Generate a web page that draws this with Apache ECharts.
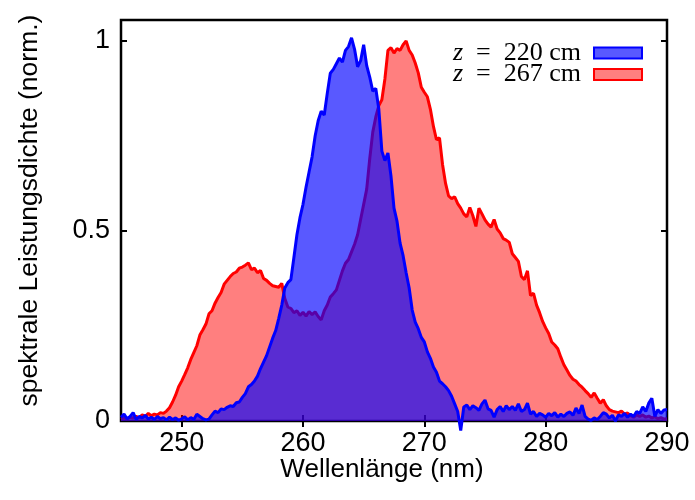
<!DOCTYPE html>
<html>
<head>
<meta charset="utf-8">
<script src="https://cdn.jsdelivr.net/npm/echarts@6/dist/echarts.min.js"></script>
<style>
  html, body { margin: 0; padding: 0; background: #fff; }
  #chart { width: 695px; height: 500px; }
</style>
</head>
<body>
<div id="chart"></div>
<script>
// Spectra sampled on a regular wavelength grid (nm)
const wavelengthStart = 245;
const wavelengthStep = 0.25;

const xTicks = [250, 260, 270, 280, 290];
const yTicks = [0, 0.5, 1];

const seriesNames = ['z = 220 cm', 'z = 267 cm'];

// normalised spectral power density at z = 220 cm
const psd220 = [
  0.010, 0.018, 0.006, 0.012, 0.022, 0.004, 0.012, 0.008,
  0.015, 0.005, 0.010, 0.004, 0.012, 0.006, 0.009, 0.003,
  0.010, 0.004, 0.008, 0.002, 0.006, 0.011, 0.003, 0.009,
  0.004, 0.018, 0.012, 0.006, 0.003, 0.005, 0.016, 0.026,
  0.022, 0.032, 0.030, 0.036, 0.040, 0.038, 0.048, 0.050,
  0.062, 0.072, 0.090, 0.096, 0.105, 0.118, 0.138, 0.155,
  0.172, 0.195, 0.218, 0.238, 0.270, 0.305, 0.350, 0.364,
  0.372, 0.430, 0.490, 0.535, 0.570, 0.615, 0.655, 0.695,
  0.750, 0.790, 0.815, 0.805, 0.862, 0.915, 0.925, 0.940,
  0.955, 0.944, 0.975, 0.985, 1.008, 0.978, 0.932, 0.948,
  0.990, 0.935, 0.905, 0.868, 0.875, 0.820, 0.710, 0.685,
  0.705, 0.645, 0.560, 0.525, 0.468, 0.435, 0.390, 0.350,
  0.292, 0.260, 0.243, 0.220, 0.208, 0.182, 0.165, 0.142,
  0.128, 0.105, 0.098, 0.090, 0.080, 0.065, 0.045, 0.025,
  -0.025, 0.037, 0.042, 0.030, 0.040, 0.035, 0.028, 0.045,
  0.055, 0.032, 0.028, 0.010, 0.030, 0.038, 0.025, 0.040,
  0.030, 0.038, 0.028, 0.045, 0.025, 0.030, 0.047, 0.018,
  0.025, 0.012, 0.020, 0.016, 0.010, 0.020, 0.014, 0.022,
  0.010, 0.018, 0.012, 0.020, 0.024, 0.015, 0.034, 0.020,
  0.042, 0.012, 0.005, 0.002, 0.008, 0.004, 0.012, 0.022,
  0.018, 0.008, 0.015, 0.000, 0.016, 0.012, 0.020, 0.010,
  0.018, 0.012, 0.025, 0.020, 0.037, 0.025, 0.047, 0.060,
  0.012, 0.030, 0.020, 0.029, 0.030
];

// normalised spectral power density at z = 267 cm
const psd267 = [
  0.005, 0.008, 0.006, 0.010, 0.008, 0.012, 0.009, 0.016,
  0.012, 0.020, 0.014, 0.018, 0.016, 0.022, 0.020, 0.026,
  0.035, 0.050, 0.068, 0.090, 0.105, 0.122, 0.140, 0.162,
  0.180, 0.198, 0.226, 0.240, 0.255, 0.282, 0.290, 0.310,
  0.325, 0.338, 0.360, 0.370, 0.380, 0.388, 0.392, 0.402,
  0.405, 0.410, 0.416, 0.398, 0.402, 0.390, 0.396, 0.375,
  0.370, 0.362, 0.356, 0.354, 0.352, 0.362, 0.322, 0.300,
  0.296, 0.285, 0.290, 0.278, 0.286, 0.276, 0.288, 0.280,
  0.287, 0.275, 0.266, 0.290, 0.305, 0.326, 0.335, 0.345,
  0.370, 0.395, 0.415, 0.425, 0.445, 0.465, 0.490, 0.530,
  0.570, 0.610, 0.690, 0.760, 0.800, 0.830, 0.845, 0.900,
  0.975, 0.982, 0.968, 0.980, 0.975, 0.990, 1.000, 0.975,
  0.963, 0.942, 0.916, 0.878, 0.865, 0.853, 0.820, 0.775,
  0.740, 0.745, 0.675, 0.625, 0.592, 0.585, 0.590, 0.572,
  0.560, 0.545, 0.537, 0.562, 0.540, 0.512, 0.560, 0.545,
  0.529, 0.518, 0.510, 0.530, 0.505, 0.495, 0.480, 0.476,
  0.470, 0.440, 0.430, 0.420, 0.380, 0.372, 0.395, 0.330,
  0.336, 0.305, 0.285, 0.262, 0.245, 0.230, 0.208, 0.200,
  0.190, 0.168, 0.148, 0.134, 0.120, 0.110, 0.105, 0.096,
  0.089, 0.080, 0.072, 0.062, 0.074, 0.060, 0.047, 0.056,
  0.040, 0.030, 0.026, 0.024, 0.022, 0.026, 0.018, 0.021,
  0.014, 0.010, 0.016, 0.012, 0.016, 0.010, 0.013, 0.008,
  0.011, 0.006, 0.009, 0.005, 0.006
];

function toPairs(values) {
  return values.map((v, i) => [wavelengthStart + i * wavelengthStep, v]);
}

const SANS = '"Liberation Sans", Arial, Helvetica, sans-serif';
const SERIF = '"Liberation Serif", "DejaVu Serif", serif';

const frameTick = { show: true, inside: true, length: 6, lineStyle: { color: '#000', width: 2 } };

const chart = echarts.init(document.getElementById('chart'), null, { renderer: 'canvas' });

chart.setOption({
  animation: false,
  backgroundColor: '#fff',
  grid: {
    left: 121, right: 28, top: 20, bottom: 79,
    show: true, borderColor: '#000', borderWidth: 2.5, backgroundColor: 'transparent'
  },
  legend: {
    orient: 'vertical',
    right: 47, top: 35,
    align: 'right',
    itemWidth: 48, itemHeight: 11,
    itemGap: -4.5,
    icon: 'rect',
    data: [
      { name: seriesNames[0], itemStyle: { color: 'rgba(0,0,255,0.65)', borderColor: '#0000ff', borderWidth: 2 } },
      { name: seriesNames[1], itemStyle: { color: 'rgba(255,0,0,0.5)', borderColor: '#ff0000', borderWidth: 2 } }
    ],
    // italic variable, upright value and unit
    formatter: n => '{i|z}{t|\u2002=\u2002' + n.slice(4) + '}',
    textStyle: {
      padding: [0, 8, 0, 0],
      lineHeight: 20,
      height: 20,
      rich: {
        i: { fontFamily: SERIF, fontStyle: 'italic', fontSize: 26, lineHeight: 20, height: 20, color: '#000' },
        t: { fontFamily: SERIF, fontSize: 26, lineHeight: 20, height: 20, color: '#000' }
      }
    }
  },
  xAxis: [
    {
      type: 'value', min: 245, max: 290,
      name: 'Wellenlänge (nm)', nameLocation: 'middle', nameGap: 36, nameMoveOverlap: false,
      nameTextStyle: { fontFamily: SANS, fontSize: 26, color: '#000', padding: [0, 24, 0, 0] },
      axisLine: { show: false },
      axisTick: Object.assign({ customValues: xTicks }, frameTick),
      axisLabel: { customValues: xTicks, fontFamily: SANS, fontSize: 27, color: '#000', margin: 9 },
      splitLine: { show: false }
    },
    {
      type: 'value', min: 245, max: 290, position: 'top',
      axisLine: { show: false },
      axisTick: Object.assign({ customValues: xTicks }, frameTick),
      axisLabel: { show: false },
      splitLine: { show: false }
    }
  ],
  yAxis: [
    {
      type: 'value', min: 0, max: 1.055,
      name: 'spektrale Leistungsdichte (norm.)', nameLocation: 'middle', nameGap: 78, nameMoveOverlap: false,
      nameTextStyle: { fontFamily: SANS, fontSize: 26.5, color: '#000', padding: [0, 0, 0, 20] },
      axisLine: { show: false },
      axisTick: Object.assign({ customValues: yTicks }, frameTick),
      axisLabel: { customValues: yTicks, fontFamily: SANS, fontSize: 27, color: '#000', margin: 11,
                   formatter: v => String(v) },
      splitLine: { show: false }
    },
    {
      type: 'value', min: 0, max: 1.055, position: 'right',
      axisLine: { show: false },
      axisTick: Object.assign({ customValues: yTicks }, frameTick),
      axisLabel: { show: false },
      splitLine: { show: false }
    }
  ],
  series: [
    {
      name: seriesNames[1], type: 'line', data: toPairs(psd267),
      xAxisIndex: 0, yAxisIndex: 0,
      symbol: 'none', clip: false,
      lineStyle: { color: '#ff0000', width: 3 },
      itemStyle: { color: '#ff0000' },
      areaStyle: { color: 'rgba(255,0,0,0.5)', opacity: 1 },
      z: 2
    },
    {
      name: seriesNames[0], type: 'line', data: toPairs(psd220),
      xAxisIndex: 0, yAxisIndex: 0,
      symbol: 'none', clip: false,
      lineStyle: { color: '#0000ff', width: 3 },
      itemStyle: { color: '#0000ff' },
      areaStyle: { color: 'rgba(0,0,255,0.65)', opacity: 1 },
      z: 3
    }
  ]
});
</script>
</body>
</html>
